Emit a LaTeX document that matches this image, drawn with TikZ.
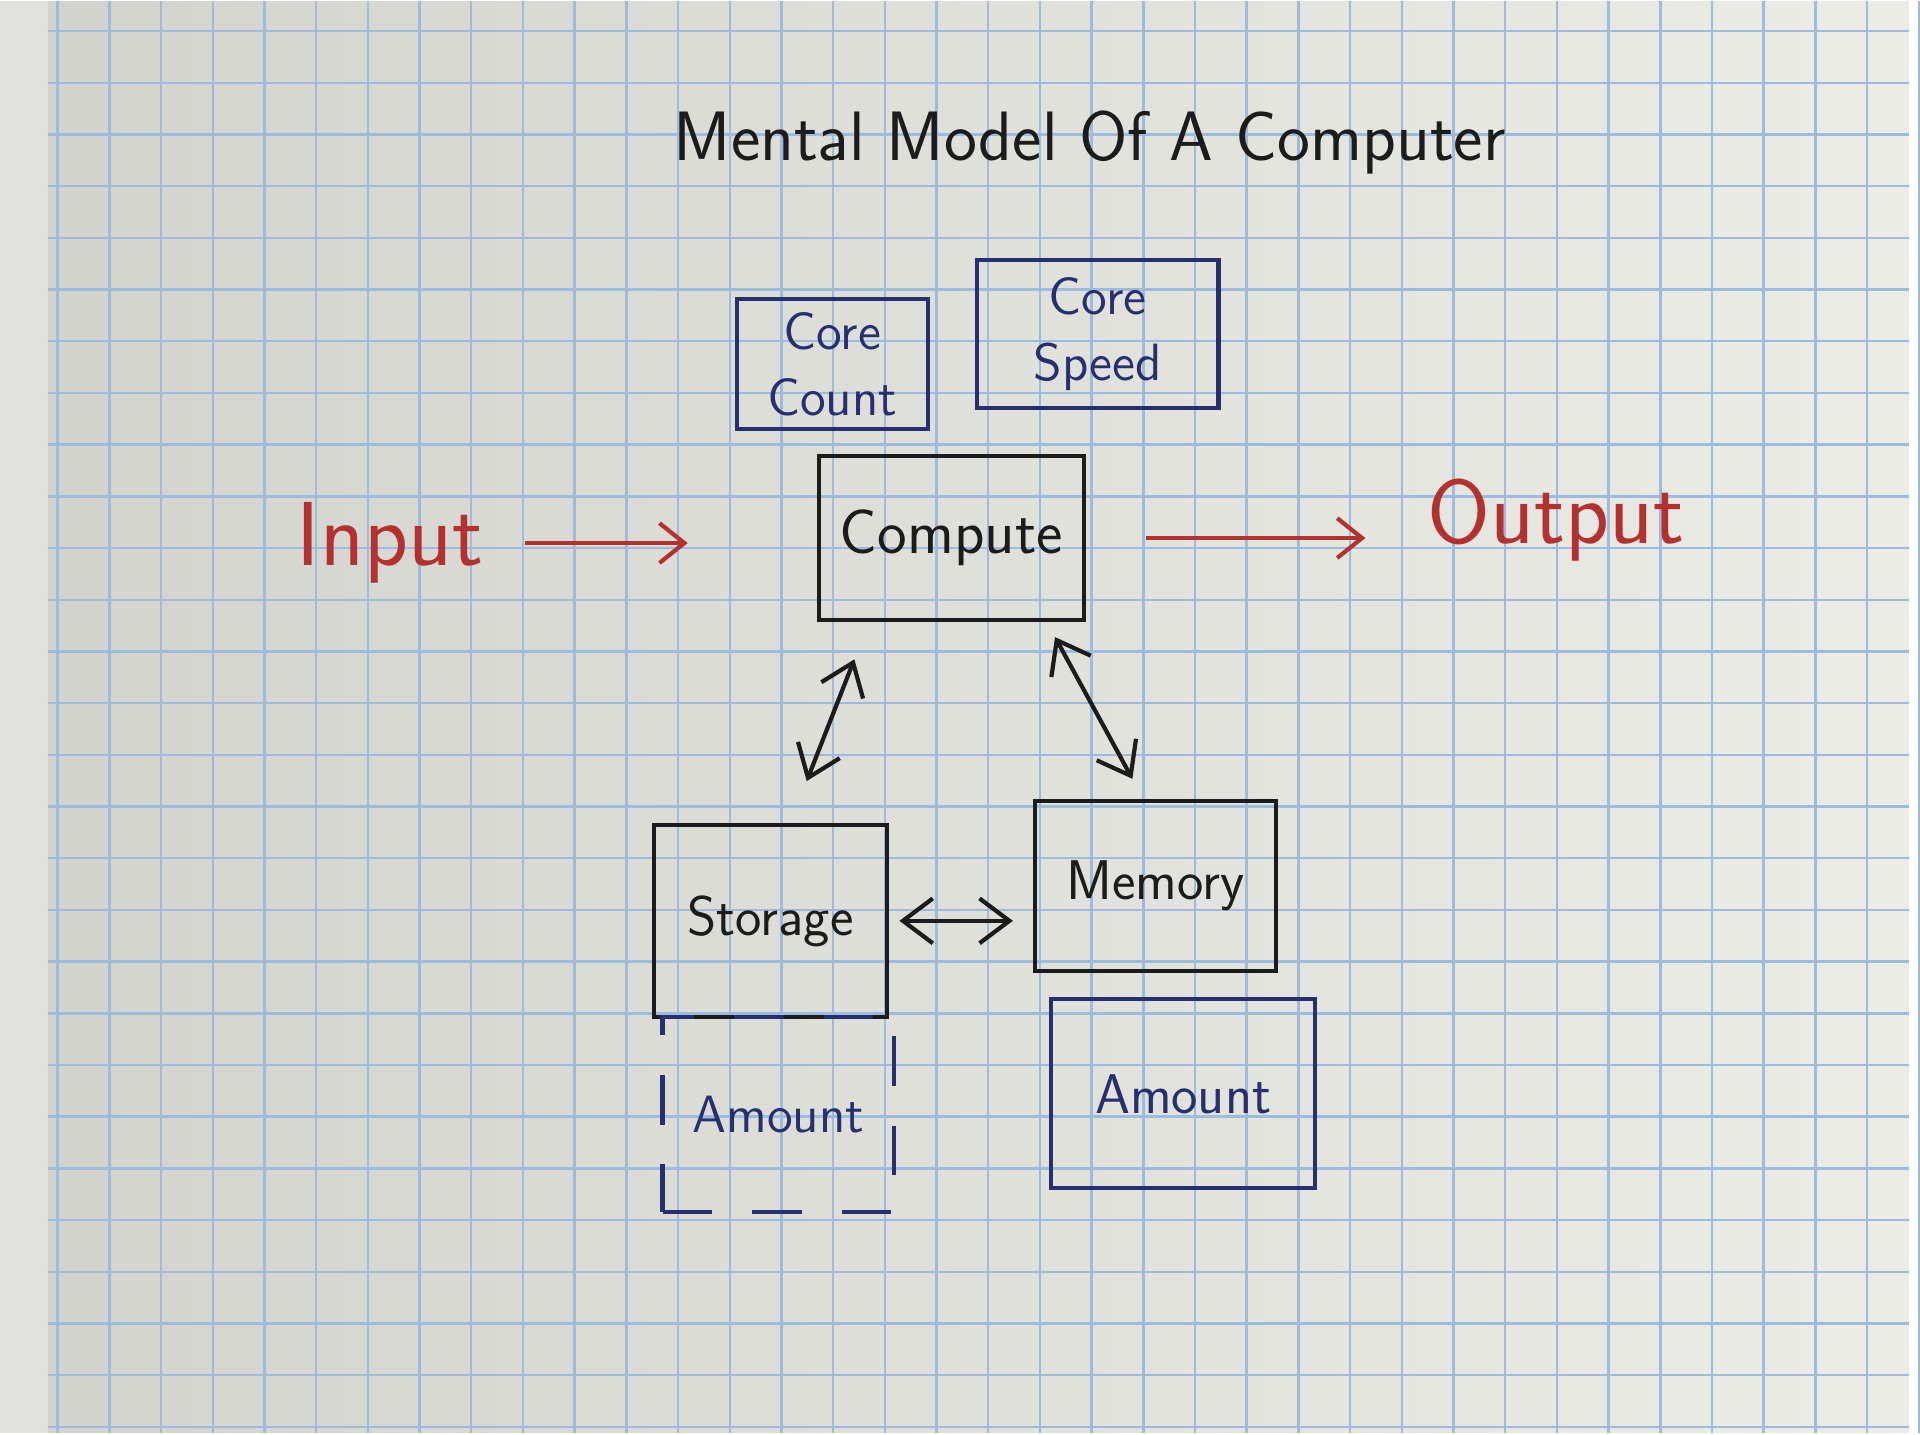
\documentclass[tikz,border=0pt]{standalone}
\usepackage{xcolor}
\usetikzlibrary{arrows.meta}

\definecolor{paperdark}{HTML}{D3D3CD}
\definecolor{paperlight}{HTML}{ECECE7}
\definecolor{gridblue}{HTML}{9DBCDD}
\definecolor{inkblack}{HTML}{1C1C1C}
\definecolor{inkblue}{HTML}{27306E}
\definecolor{inkred}{HTML}{B3322F}

\tikzset{
  box/.style={draw=inkblack, line width=1.2pt, inner sep=0pt, text=inkblack,
    font=\sffamily\fontsize{16}{18}\selectfont},
  subbox/.style={box, draw=inkblue, text=inkblue},
  corebox/.style={subbox, align=center, font=\sffamily\fontsize{15}{19}\selectfont},
  link/.style={inkblack, line width=1.2pt,
    {Straight Barb[length=3mm,width=4.5mm]}-{Straight Barb[length=3mm,width=4.5mm]}},
  flow/.style={inkred, line width=1.2pt, -{Straight Barb[length=2.5mm,width=4mm]}},
  lbl/.style={text=inkred, font=\sffamily\fontsize{26}{28}\selectfont}
}

\begin{document}
\begin{tikzpicture}[x=0.01cm,y=-0.01cm]
%paper and grid
\shade[left color=paperdark, right color=paperlight] (0,0) rectangle (1920,1440);
\fill[paperlight!90!gray] (0,0) rectangle (48,1440);
\foreach \i in {0,...,36} \draw[gridblue, line width=0.7pt] (\i*52+58,0) -- (\i*52+58,1440);
\foreach \j in {0,...,27} \draw[gridblue, line width=0.7pt] (48,\j*52+30) -- (1920,\j*52+30);

\node[text=inkblack, font=\sffamily\fontsize{20}{22}\selectfont] (title) at (1096,142) {Mental Model Of A Computer};

\node[corebox, minimum width=1.92cm, minimum height=1.31cm] (count) at (837,365) {Core\\Count};
\node[corebox, minimum width=2.43cm, minimum height=1.49cm] (speed) at (1104,335) {Core\\Speed};

\node[box, minimum width=2.66cm, minimum height=1.65cm, font=\sffamily\fontsize{18}{20}\selectfont] (compute) at (957,540) {Compute};
\node[lbl] (input) at (392,545) {Input};
\node[lbl] (output) at (1565,522) {Output};

\node[box, minimum width=2.35cm, minimum height=1.93cm] (storage) at (775,925) {Storage};
\node[box, minimum width=2.42cm, minimum height=1.71cm] (memory) at (1162,890) {Memory};

\node[subbox, dash pattern=on 5mm off 4mm, minimum width=2.33cm, minimum height=1.96cm, font=\sffamily\fontsize{15}{17}\selectfont] (diskamt) at (783,1120) {Amount};
\node[subbox, minimum width=2.65cm, minimum height=1.90cm, font=\sffamily\fontsize{16}{18}\selectfont] (ramamt) at (1190,1099) {Amount};

\draw[flow, shorten <=0.3cm, shorten >=1.3cm] (input.east) -- (input.east -| compute.west);
\draw[flow, shorten <=0.6cm, shorten >=0.5cm] (compute.east) -- (compute.east -| output.west);

\draw[link, shorten <=0.4cm, shorten >=0.45cm] ([xshift=-0.83cm]compute.south) -- ([xshift=0.2cm]storage.north);
\draw[link, shorten <=0.17cm, shorten >=0.23cm] ([xshift=0.96cm]compute.south) -- ([xshift=-0.12cm]memory.north);
\draw[link, shorten <=0.1cm, shorten >=0.2cm] (storage.east) -- (storage.east -| memory.west);
\end{tikzpicture}
\end{document}
